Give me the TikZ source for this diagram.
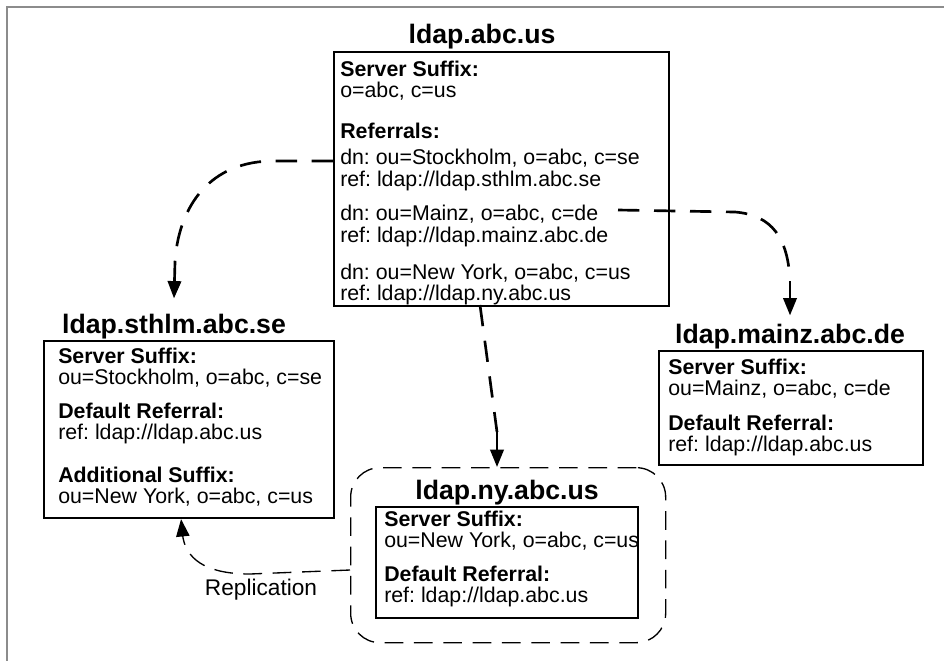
\documentclass[tikz,border=0pt]{standalone}
\usepackage{fontspec}
\setmainfont{Liberation Sans}
\usetikzlibrary{arrows.meta,calc}

\begin{document}
\begin{tikzpicture}[x=0.75pt,y=-0.75pt,
    server/.style={draw, line width=1.6pt, anchor=north west, inner sep=0pt},
    hostname/.style={font=\fontsize{20}{24}\selectfont\bfseries, anchor=base, inner sep=6pt},
    entries/.style={font=\fontsize{16}{16}\selectfont\frenchspacing, align=left, anchor=north west, inner sep=0pt},
    referral/.style={line width=2pt, dash pattern=on 16pt off 11pt},
    repl/.style={line width=1pt, dash pattern=on 14pt off 8pt},
    tip/.style={line width=2pt, -{Triangle[length=13pt,width=10pt]}}]
  \useasboundingbox (0,0) rectangle (944,661);
  \draw[black!45, line width=1.5pt] (944,6.5) -- (6.5,6.5) -- (6.5,661);

  % master
  \node[hostname] (abcname) at (482,43) {ldap.abc.us};
  \node[server, minimum width=251.25pt, minimum height=190.5pt] (abc) at (333,51) {};
  \node[entries] (abctxt) at (340,60.4) {\textbf{Server Suffix:}\\ o=abc, c=us\\[15pt]
    \textbf{Referrals:}\\[3.5pt] dn: ou=Stockholm, o=abc, c=se\\ ref: ldap://ldap.sthlm.abc.se\\[10pt]
    dn: ou=Mainz, o=abc, c=de\\ ref: ldap://ldap.mainz.abc.de\\[12pt]
    dn: ou=New York, o=abc, c=us\\ ref: ldap://ldap.ny.abc.us};

  % stockholm
  \node[hostname] (sthlmname) at (174,333) {ldap.sthlm.abc.se};
  \node[server, minimum width=217.5pt, minimum height=132.75pt] (sthlm) at (43,340) {};
  \node[entries] (sthlmtxt) at (58,347.4) {\textbf{Server Suffix:}\\ ou=Stockholm, o=abc, c=se\\[9.5pt]
    \textbf{Default Referral:}\\ ref: ldap://ldap.abc.us\\[16pt]
    \textbf{Additional Suffix:}\\ ou=New York, o=abc, c=us};

  % mainz
  \node[hostname] (mainzname) at (790,343) {ldap.mainz.abc.de};
  \node[server, minimum width=198pt, minimum height=85.5pt] (mainz) at (658,350) {};
  \node[entries] (mainztxt) at (668,358.4) {\textbf{Server Suffix:}\\ ou=Mainz, o=abc, c=de\\[10pt]
    \textbf{Default Referral:}\\ ref: ldap://ldap.abc.us};

  % new york, replica
  \node[draw, repl, rounded corners=22pt, anchor=north west, minimum width=236.25pt,
    minimum height=131.25pt] (nyzone) at (350,467) {};
  \node[hostname] (nyname) at (507,499) {ldap.ny.abc.us};
  \node[server, minimum width=196.5pt, minimum height=83.25pt] (ny) at (375,506) {};
  \node[entries] (nytxt) at (384,510.4) {\textbf{Server Suffix:}\\ ou=New York, o=abc, c=us\\[9.5pt]
    \textbf{Default Referral:}\\ ref: ldap://ldap.abc.us};

  % referrals
  \coordinate (sthlmref) at (333,161);
  \coordinate (sthlmturn) at (175,262);
  \draw[referral] (sthlmref) -- (270,161) .. controls (205,163) and (178,212) .. (sthlmturn);
  \draw[tip] (sthlmturn) -- ($(sthlmname.north)+(0,-7)$);

  \coordinate (mainzref) at (618,210);
  \coordinate (mainzturn) at (790,281);
  \draw[referral] (mainzref) -- (735,212) .. controls (772,215) and (788,238) .. (mainzturn);
  \draw[tip] (mainzturn) -- (mainzname.north);

  \coordinate (nyref) at (480,305);
  \coordinate (nyturn) at (497,432);
  \draw[referral] (nyref) -- (nyturn);
  \draw[tip] (nyturn) -- (nyzone.north -| nyturn);

  % replication
  \coordinate (replstart) at (350,570);
  \coordinate (replturn) at (183,538);
  \draw[repl] (replstart) -- (250,574) .. controls (212,574) and (188,563) .. (replturn);
  \draw[tip, line width=1pt] (replturn) -- ($(sthlm.south)+(-8,0)$);
  \node[font=\fontsize{17}{20}\selectfont, anchor=base] (repllabel) at (261,595) {Replication};
\end{tikzpicture}
\end{document}
